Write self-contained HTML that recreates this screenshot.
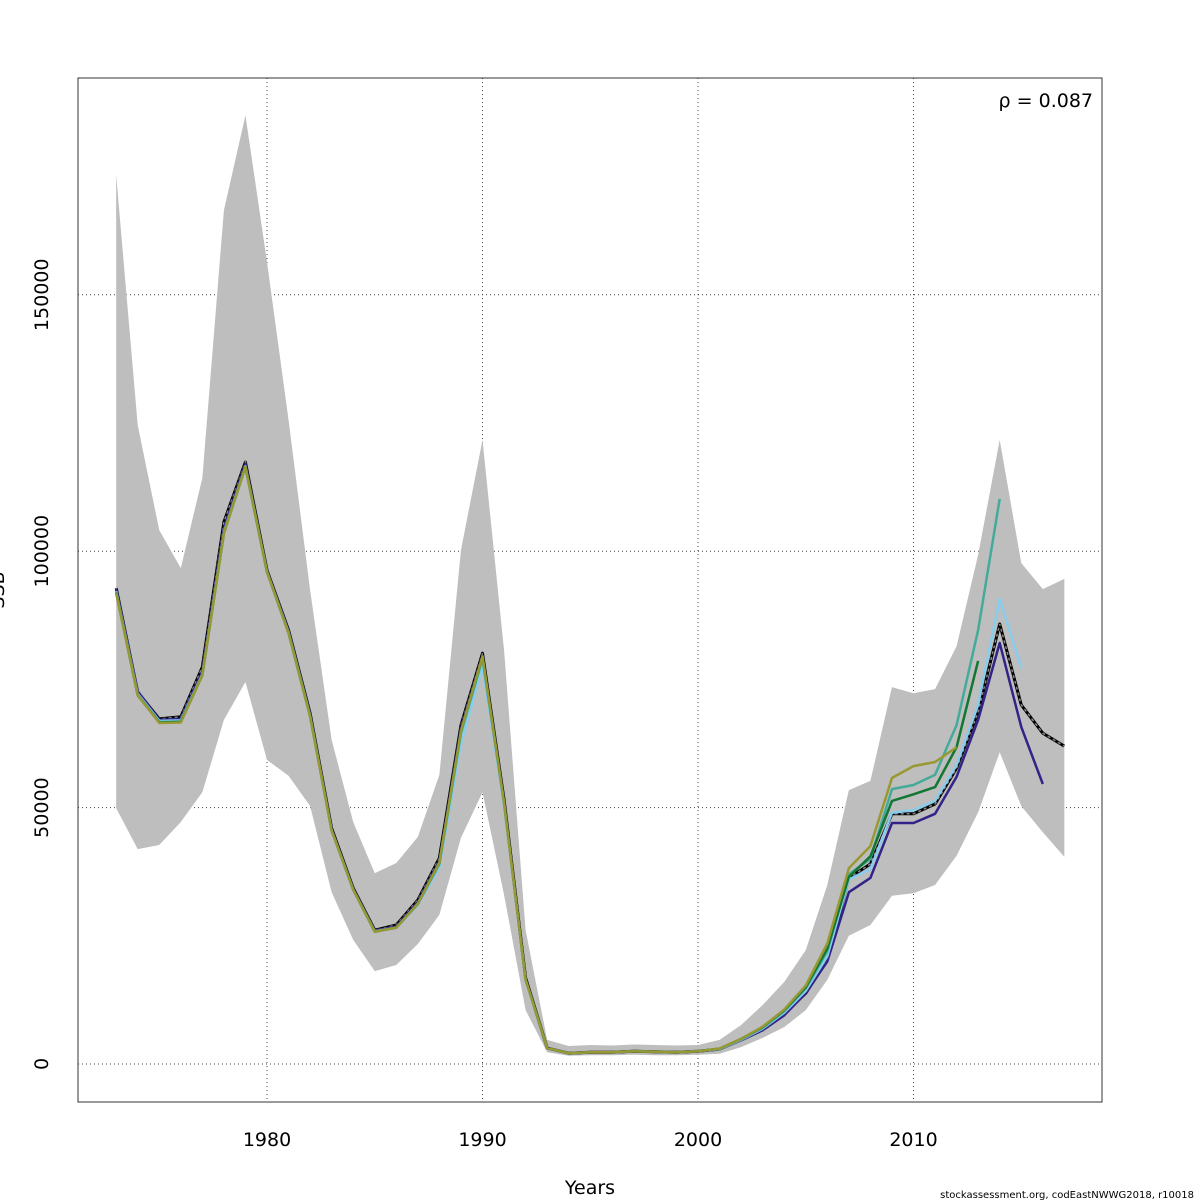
<!DOCTYPE html>
<html><head><meta charset="utf-8"><style>
html,body{margin:0;padding:0;background:#fff;}
svg{display:block;font-family:"DejaVu Sans","Liberation Sans",sans-serif;}
</style></head><body>
<svg id="chart" width="1200" height="1200" viewBox="0 0 1200 1200">
<rect x="0" y="0" width="1200" height="1200" fill="#fff"/>
<g id="grid"></g>
<g id="band"></g>
<g id="lines"></g>
<rect x="78" y="78" width="1024" height="1024" fill="none" stroke="#333" stroke-width="1"/>
<g id="axes" font-size="19" fill="#000"></g>
<text x="1093" y="107" font-size="19" text-anchor="end">ρ = 0.087</text>
<text x="590" y="1194" font-size="19" text-anchor="middle">Years</text>
<text transform="translate(4,590) rotate(-90)" font-size="19" text-anchor="middle">SSB</text>
<text x="1194" y="1198" font-size="10" text-anchor="end">stockassessment.org, codEastNWWG2018, r10018</text>
</svg>
<script>
const years = [1973,1974,1975,1976,1977,1978,1979,1980,1981,1982,1983,1984,1985,1986,1987,1988,1989,1990,1991,1992,1993,1994,1995,1996,1997,1998,1999,2000,2001,2002,2003,2004,2005,2006,2007,2008,2009,2010,2011,2012,2013,2014,2015,2016,2017];
const ssb = [92.8,72.5,67.3,67.7,77.4,105.7,117.4,96.3,84.6,68.4,46,34.3,26.1,27.1,32,40.2,66.1,80.1,51.5,16.8,3.1,2.1,2.3,2.3,2.5,2.4,2.3,2.5,2.9,4.7,6.8,9.8,13.8,20.3,36.3,39,48.8,48.8,50.7,57.7,68.6,85.8,70,64.5,62];
const upper = [173.4,124.6,104.1,96.7,114.3,166.5,185,156.4,125.6,92.4,63.2,47.2,37.2,39.2,44.3,56.4,100.2,121.7,80.7,26.1,4.7,3.5,3.7,3.6,3.8,3.7,3.6,3.7,4.7,7.6,11.5,16,22.2,34.9,53.4,55.2,73.5,72.3,73.1,81.5,99.3,121.7,97.7,92.6,94.6];
const lower = [49.9,41.9,42.7,47.2,53,67.1,74.5,59.3,56.2,50.3,33.5,24.2,18.1,19.3,23.4,29.1,44.1,53,33,10.5,2.3,1.6,1.7,1.7,1.8,1.7,1.7,1.8,2,3.3,5.1,7.2,10.5,16.4,25,27.1,32.8,33.3,34.9,40.6,49.1,60.8,50.3,45.2,40.4];
const peelNavy = [92.6,72.7,67.1,67.3,76.5,104.5,117,96.2,84.4,68.2,45.8,34.2,26,26.8,31.6,39.6,65.5,79.6,51.2,16.6,3.1,2.1,2.3,2.3,2.5,2.4,2.3,2.5,2.9,4.6,6.6,9.5,13.8,20,33.5,36.3,47,47,48.8,56,67.1,82.1,65.7,54.6];
const peelLightBlue = [92.2,72.2,66.9,67,76,103.8,116.6,96,84.2,68,45.6,34,25.9,26.6,31,38.4,62.5,77.5,50.5,16.4,3.1,2.1,2.3,2.3,2.5,2.4,2.3,2.5,2.9,4.7,6.9,10,14.3,21,36,38,49,49.5,51.3,58.3,70,90.7,77.2];
const peelTeal = [92,72,66.7,66.8,75.8,103.6,116.4,95.9,84.1,67.9,45.6,34,25.8,26.6,31.2,39,64.5,79,50.8,16.5,3.1,2.1,2.3,2.3,2.5,2.4,2.3,2.5,3,4.8,7.1,10.3,14.8,22,37,40,53.6,54.4,56.4,66.1,84.6,110.2];
const peelGreen = [91.9,71.9,66.6,66.7,75.8,103.5,116.5,96,84,67.8,45.6,34,25.8,26.6,31.3,39.3,65,79.5,51,16.5,3.1,2.1,2.3,2.3,2.5,2.4,2.3,2.5,3,4.9,7.2,10.5,15,22.5,36.5,40.5,51.3,52.6,54,61.8,78.6];
const peelOlive = [91.8,71.9,66.5,66.6,75.8,103.5,116.5,96,84,67.8,45.6,34,25.8,26.6,31.3,39.3,65,79.5,51,16.5,3.1,2.1,2.3,2.3,2.5,2.4,2.3,2.5,3,4.9,7.3,10.6,15.3,23.5,38.2,42.5,55.8,58.1,58.9,61.8];
const xTicks = [1980,1990,2000,2010];
const yTicks = [0,50000,100000,150000];

const NS = "http://www.w3.org/2000/svg";
function xs(yr){ return 267 + (yr-1980)*21.55; }
function ys(v){ return 1064 - v*0.005128; }
function yk(v){ return ys(v*1000); }
function mk(tag, attrs, parent){ const e=document.createElementNS(NS,tag); for(const k in attrs) e.setAttribute(k,attrs[k]); parent.appendChild(e); return e; }

const grid = document.getElementById('grid');
const axes = document.getElementById('axes');
xTicks.forEach(t=>{
  const l = mk('line',{x1:xs(t),x2:xs(t),y1:78,y2:1102,stroke:'#444','stroke-width':1,'stroke-dasharray':'1,3'},grid);
  
  
  const tx = mk('text',{x:xs(t),y:1146,'text-anchor':'middle'},axes);
  tx.textContent = t;
  
  
});
yTicks.forEach(t=>{
  const l = mk('line',{x1:78,x2:1102,y1:ys(t),y2:ys(t),stroke:'#444','stroke-width':1,'stroke-dasharray':'1,3'},grid);
  
  
  const tx = mk('text',{transform:`translate(48,${ys(t)}) rotate(-90)`,'text-anchor':'middle'},axes);
  tx.textContent = t;
  
  
});

let pts = [];
years.forEach((y,i)=>pts.push(xs(y)+','+yk(upper[i])));
for(let i=years.length-1;i>=0;i--) pts.push(xs(years[i])+','+yk(lower[i]));
const band = mk('polygon',{points:pts.join(' '),fill:'#bebebe',stroke:'none'},document.getElementById('band'));



const lines = document.getElementById('lines');
function path(arr){ return arr.map((v,i)=>(i?'L':'M')+xs(years[i]).toFixed(1)+','+yk(v).toFixed(1)).join(''); }
const base = mk('path',{d:path(ssb),fill:'none',stroke:'#000','stroke-width':3,'stroke-linejoin':'round'},lines);


const dash = mk('path',{d:path(ssb),fill:'none',stroke:'#888','stroke-width':1.5,'stroke-dasharray':'3,3'},lines);


const peels = [[peelNavy,'#332288','peel-2016'],[peelLightBlue,'#88CCEE','peel-2015'],[peelTeal,'#44AA99','peel-2014'],[peelGreen,'#117733','peel-2013'],[peelOlive,'#999933','peel-2012']];
peels.forEach(p=>{
  const e = mk('path',{d:path(p[0]),fill:'none',stroke:p[1],'stroke-width':2.5,'stroke-linejoin':'round'},lines);
  
  
});
</script>
</body></html>
